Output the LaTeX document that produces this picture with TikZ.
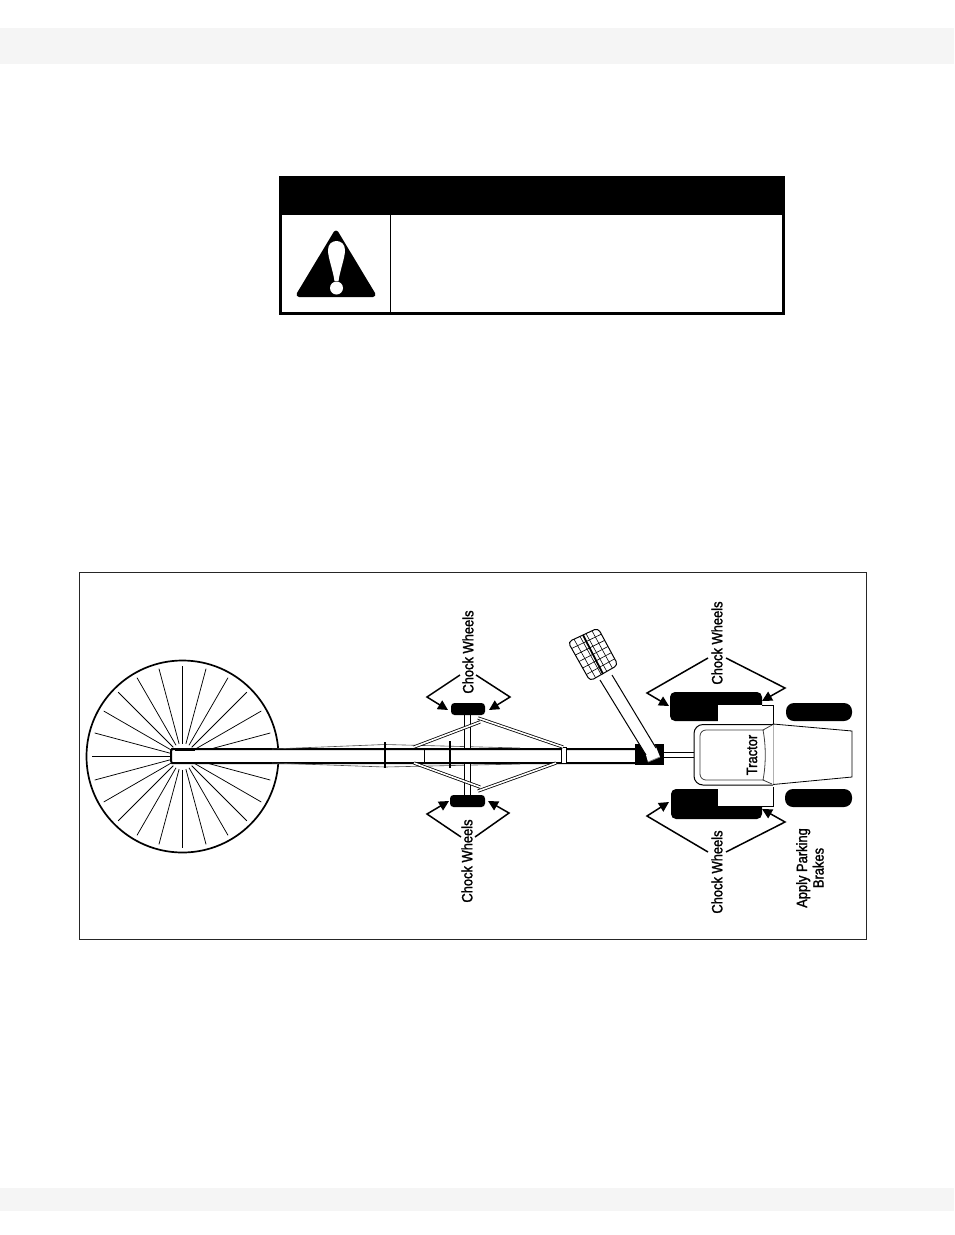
\documentclass[tikz,border=0pt]{standalone}
\usepackage{fontspec}
\usetikzlibrary{arrows.meta,calc}
\newfontfamily\labfont[FakeBold=1.5,FakeStretch=0.86]{Liberation Sans}
\tikzset{
  thin line/.style={draw=black!70,line width=0.6pt},
  tube line/.style={draw=black,line width=2pt},
  tire/.style={fill=black,draw=none,rectangle,inner sep=0pt},
  lab/.style={font=\labfont\fontsize{15}{16.5}\selectfont,rotate=90,inner sep=0pt,text=black,align=center},
  chock/.style={draw=black,line width=1.5pt,-{Triangle[length=10pt,width=10pt]}},
  spoke/.style={draw=black,line width=0.75pt},
}
\begin{document}
\begin{tikzpicture}[x=1pt,y=-1pt]
\useasboundingbox (0,0) rectangle (954,1235);
\fill[white] (0,0) rectangle (954,1235);
% page bands
\fill[black!4] (0,28) rectangle (954,64);
\fill[black!4] (0,1188) rectangle (954,1211);
% warning box
\fill[black] (279,176) rectangle (785,215);
\draw[black,line width=3pt] (280.5,214) -- (280.5,313.5) -- (783.5,313.5) -- (783.5,214);
\draw[black,line width=1pt] (390.5,214) -- (390.5,312);
\draw[fill=black,draw=black,line width=5pt,line join=round] (336,233) -- (299,294.5) -- (373,294.5) -- cycle;
\fill[white] (328,250) .. controls (328,238) and (345,238) .. (345,250) .. controls (345,258) and (340,270) .. (338.5,281) -- (334.5,281) .. controls (333,270) and (328,258) .. (328,250) -- cycle;
\fill[white] (336.5,288) circle (6.5);
% figure frame
\draw[black!85,line width=1pt] (79.5,572.5) rectangle (866.5,939.5);
% big wheel
\draw[black,line width=1.7pt] (182.5,756.5) circle (96);
\foreach \a in {15,30,...,345}{
  \draw[spoke] (182.5,756.5) ++(\a:13) -- ++(\a:78);
}
% tube over the spokes
\fill[white] (171,750) rectangle (635,762);
\draw[black,line width=0.6pt,fill=white] (175,748) rectangle (194,750);
\draw[tube line] (635,749) -- (172,749) -- (171,751) -- (171,761) -- (172,763) -- (635,763);
% flared frame lines
\draw[thin line] (272,749) -- (385,744.5) -- (520,748);
\draw[thin line] (272,763) -- (385,767) -- (520,764);
\draw[black,line width=1.6pt] (385,742) -- (385,768);
\draw[black,line width=1.2pt] (424.5,748) -- (424.5,764);
\draw[black,line width=1.6pt] (450,741) -- (450,768);
% collar
\draw[black,fill=white,line width=0.8pt] (561,747) rectangle (566,763);
% axle
\fill[white] (464,715) rectangle (470,748);
\fill[white] (464,764) rectangle (470,795);
\draw[black,line width=0.9pt] (464,714) -- (464,748) (470,714) -- (470,748) (464,764) -- (464,795) (470,764) -- (470,795);
% braces
\draw[black,line width=0.8pt,double=white,double distance=1.6pt] (563,747) -- (478,718) (480,722) -- (414,747);
\draw[black,line width=0.8pt,double=white,double distance=1.6pt] (556,763) -- (478,791) (480,787) -- (414,763);
% trailer tires
\node[tire,rounded corners=3.5pt,minimum width=34pt,minimum height=12pt] (tireA) at (468,709) {};
\node[tire,rounded corners=3.5pt,minimum width=35pt,minimum height=12pt] (tireB) at (467.5,801) {};
% tractor
\node[tire,rounded corners=5pt,minimum width=92pt,minimum height=29pt] (rearA) at (716,706.5) {};
\node[tire,rounded corners=5pt,minimum width=91pt,minimum height=30pt] (rearB) at (716.5,804) {};
\node[tire,rounded corners=8pt,minimum width=66pt,minimum height=18pt] (frontA) at (819,712) {};
\node[tire,rounded corners=8pt,minimum width=67pt,minimum height=18pt] (frontB) at (818.5,798) {};
\fill[white] (718,705) rectangle (773,724);
\fill[white] (718,787) rectangle (773,806);
\draw[black,line width=0.9pt] (762,705) -- (773,705) -- (773,724);
\draw[black,line width=0.9pt] (762,806) -- (773,806) -- (773,787);
\draw[black,fill=white,line width=0.8pt] (773,724) -- (852,731) -- (852,777) -- (773,784.5) -- cycle;
\draw[black,fill=white,line width=1pt,rounded corners=9pt] (773,724.5) -- (694,724.5) -- (694,785) -- (773,785);
\draw[black!75,line width=0.8pt,rounded corners=6pt] (764,730) -- (700,730) -- (700,780) -- (764,780);
\draw[black!75,line width=0.8pt] (772,725) -- (763,730) .. controls (766,745) and (766,765) .. (763,780) -- (772,784);
\node[lab] (tractorlab) at (752,755) {Tractor};
% hitch
\draw[black,line width=0.9pt] (664,752) -- (694,752) (664,757) -- (694,757);
% hopper arm and black box
\fill[black] (635,744) rectangle (664,765);
\fill[white] (600,680) -- (612,675) -- (656,747) -- (660,757) -- (648,762) -- (646,755) -- cycle;
\draw[black,line width=1pt] (600,680) -- (646,755) (612,675) -- (656,748);
\draw[black!50,line width=0.8pt] (648,762) -- (660,757);
% hopper
\begin{scope}
\clip[rounded corners=4pt] (568,642) -- (598,628) -- (618,665) -- (590,681) -- cycle;
\foreach \t in {1,...,5}{
  \draw[black,line width=0.6pt] ($(568,642)!\t/6!(590,681)$) -- ($(598,628)!\t/6!(618,665)$);
}
\foreach \t in {1,...,4}{
  \draw[black,line width=0.6pt] ($(568,642)!\t/5!(598,628)$) -- ($(590,681)!\t/5!(618,665)$);
}
\end{scope}
\draw[black,line width=1pt,rounded corners=4pt] (568,642) -- (598,628) -- (618,665) -- (590,681) -- cycle;
\draw[black,line width=1.8pt] (583,635) -- (603,674);
% labels
\node[lab] (l1) at (468,652) {Chock Wheels};
\node[lab] (l2) at (467,861) {Chock Wheels};
\node[lab] (l3) at (717,643) {Chock Wheels};
\node[lab] (l4) at (717,872) {Chock Wheels};
\node[lab] (l5) at (810,868) {Apply Parking\\Brakes};
% arrow coordinates
\coordinate (a1s) at (460,675); \coordinate (a1m) at (427,697); \coordinate (a1t) at (448,710);
\coordinate (a2s) at (476,675); \coordinate (a2m) at (510,697); \coordinate (a2t) at (489,710);
\coordinate (a3s) at (461,837); \coordinate (a3m) at (427,814); \coordinate (a3t) at (449,801);
\coordinate (a4s) at (475,837); \coordinate (a4m) at (509,813); \coordinate (a4t) at (488,801);
\coordinate (a5s) at (708,658); \coordinate (a5m) at (647,693); \coordinate (a5t) at (669,706);
\coordinate (a6s) at (726,658); \coordinate (a6m) at (785,688); \coordinate (a6t) at (762,701);
\coordinate (a7s) at (708,852); \coordinate (a7m) at (647,816); \coordinate (a7t) at (669,802);
\coordinate (a8s) at (726,852); \coordinate (a8m) at (785,822); \coordinate (a8t) at (762,809);
\foreach \n in {1,...,8}{
  \draw[chock] (a\n s) -- (a\n m) -- (a\n t);
}
\end{tikzpicture}
\end{document}
